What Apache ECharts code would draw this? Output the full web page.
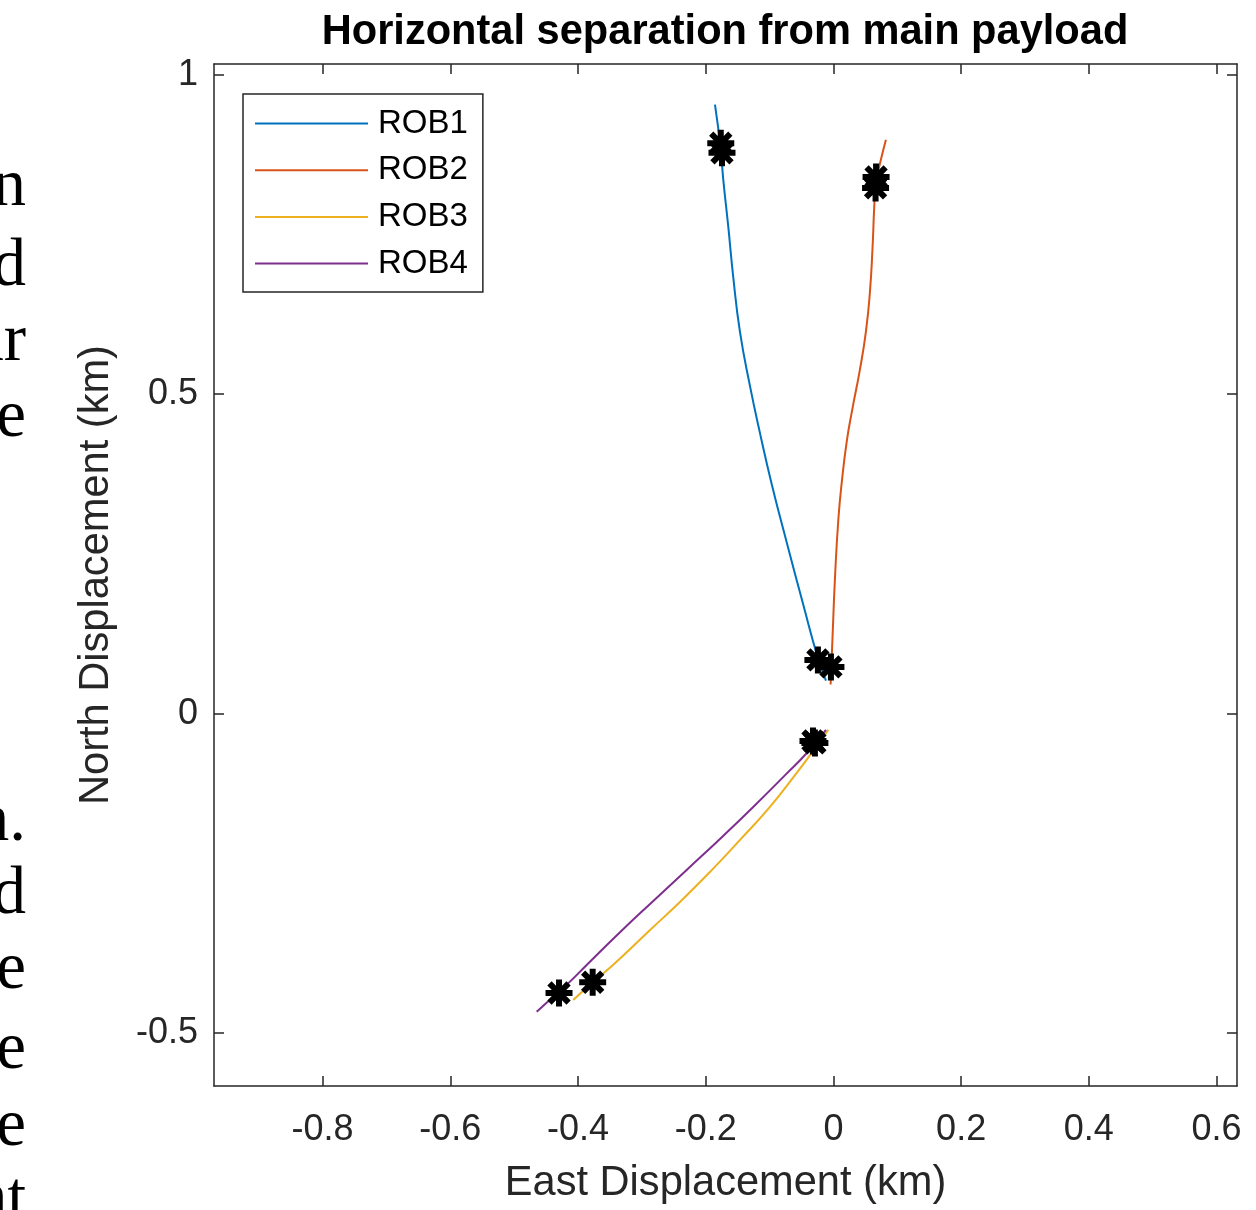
<!DOCTYPE html>
<html><head><meta charset="utf-8">
<script src="https://cdn.jsdelivr.net/npm/echarts@6/dist/echarts.min.js"></script>
<style>html,body{margin:0;padding:0;background:#fff}#c{width:1256px;height:1210px}</style>
</head><body><div id="c"></div>
<script>
const seriesNames = ['ROB1', 'ROB2', 'ROB3', 'ROB4'];
const rob1 = [[-0.1855,0.9534],[-0.1766,0.885],[-0.1725,0.836],[-0.1647,0.7628],[-0.1569,0.6837],[-0.1464,0.598],[-0.1307,0.513],[-0.1151,0.4395],[-0.0968,0.36],[-0.0733,0.2688],[-0.0473,0.1708],[-0.0238,0.0853],[-0.0117,0.0518]];
const rob2 = [[-0.0044,0.0457],[-0.0013,0.122],[0.0025,0.2136],[0.0078,0.305],[0.0135,0.366],[0.021,0.427],[0.0295,0.476],[0.0412,0.537],[0.0509,0.598],[0.0571,0.659],[0.0614,0.732],[0.0639,0.793],[0.0665,0.831],[0.0728,0.8607],[0.0822,0.8984]];
const rob3 = [[-0.0081,-0.0255],[-0.0341,-0.0615],[-0.0587,-0.0944],[-0.0994,-0.1461],[-0.1448,-0.1962],[-0.1902,-0.2447],[-0.2387,-0.2933],[-0.2904,-0.3418],[-0.3452,-0.3935],[-0.3765,-0.4201],[-0.4074,-0.4483]];
const rob4 = [[-0.0117,-0.0255],[-0.042,-0.062],[-0.0733,-0.0939],[-0.1256,-0.1461],[-0.1777,-0.1962],[-0.2298,-0.2447],[-0.2821,-0.2933],[-0.3342,-0.3423],[-0.3864,-0.3935],[-0.4125,-0.4196],[-0.4387,-0.4431],[-0.4647,-0.4666]];
const rob1Marks = [[-0.1764,0.893],[-0.1745,0.878],[-0.0243,0.0841]];
const rob2Marks = [[0.0668,0.84],[0.066,0.823],[-0.0039,0.0731]];
const rob3Marks = [[-0.029,-0.0459],[-0.377,-0.4205]];
const rob4Marks = [[-0.032,-0.0427],[-0.4297,-0.4374]];
const xTicks = [-0.8,-0.6,-0.4,-0.2,0,0.2,0.4,0.6];
const yTicks = [-0.5,0,0.5,1];
const sideWords = ['n','d','ar','e','n.','d','e','e','e','nt'];

const colors = ['#0072BD','#D95319','#EDB120','#7E2F8E'];
const axisColor = '#262626';
const sans = '"Liberation Sans", Arial, Helvetica, sans-serif';
const lines = [rob1, rob2, rob3, rob4];
const marks = [rob1Marks, rob2Marks, rob3Marks, rob4Marks];
const asterisk = 'path://M12,0L12,24M0,12L24,12M3.5,3.5L20.5,20.5M3.5,20.5L20.5,3.5';

function mkAxis(pos, min, max, ticks, showLabel, extra) {
  return Object.assign({
    type: 'value', position: pos, min: min, max: max,
    axisLine: {show: true, onZero: false, lineStyle: {color: axisColor, width: 1.5}},
    axisTick: {show: true, inside: true, length: 10, customValues: ticks, lineStyle: {color: axisColor, width: 1.5}},
    axisLabel: {show: showLabel, customValues: ticks, color: axisColor, fontFamily: sans, fontSize: 36, margin: 26},
    splitLine: {show: false}
  }, extra || {});
}

const sideY = [187.4, 267.4, 342.4, 418.4, 822.4, 895.4, 970.4, 1050.4, 1127.4, 1200.4];
const graphics = sideWords.map((w, i) => ({
  type: 'text', x: 26, y: sideY[i],
  style: {text: w, fill: '#000', font: '67px "Liberation Serif", "Times New Roman", serif', textAlign: 'right', textVerticalAlign: 'middle', verticalAlign: 'middle'}
}));

const series = [];
lines.forEach((d, i) => series.push({
  name: seriesNames[i], type: 'line', data: d, xAxisIndex: 0, yAxisIndex: 0,
  showSymbol: false, symbol: 'none', smooth: 0.5,
  lineStyle: {color: colors[i], width: 2}, itemStyle: {color: colors[i]}, z: 2
}));
marks.forEach((d, i) => series.push({
  name: seriesNames[i] + ' marker', type: 'scatter', data: d, xAxisIndex: 0, yAxisIndex: 0,
  symbol: asterisk, symbolSize: 27,
  itemStyle: {color: '#000', borderColor: '#000', borderWidth: 6, opacity: 1}, z: 3, silent: true
}));

const chart = echarts.init(document.getElementById('c'), null, {renderer: 'canvas'});
chart.setOption({
  animation: false,
  backgroundColor: '#fff',
  title: {text: 'Horizontal separation from main payload', left: 720, textAlign: 'center', top: 7,
    textStyle: {fontFamily: sans, fontWeight: 'bold', fontSize: 41.6, color: '#000'}},
  grid: {left: 214, right: 19, top: 64, bottom: 124, containLabel: false},
  xAxis: [
    mkAxis('bottom', -0.97, 0.632, xTicks, true, {name: 'East Displacement (km)', nameLocation: 'middle', nameGap: 77,
      nameTextStyle: {fontFamily: sans, fontSize: 41.6, color: axisColor}}),
    mkAxis('top', -0.97, 0.632, xTicks, false)
  ],
  yAxis: [
    mkAxis('left', -0.583, 1.017, yTicks, true, {name: 'North Displacement (km)', nameLocation: 'middle', nameGap: 96,
      nameTextStyle: {fontFamily: sans, fontSize: 41.6, color: axisColor}, axisLabel: {show: true, customValues: yTicks, color: axisColor, fontFamily: sans, fontSize: 36, margin: 16}}),
    mkAxis('right', -0.583, 1.017, yTicks, false)
  ],
  legend: {
    data: seriesNames, orient: 'vertical', left: 243, top: 94,
    padding: [13, 15, 12, 12], itemGap: 13.7, itemWidth: 113, itemHeight: 2, icon: 'rect',
    borderColor: axisColor, borderWidth: 1.5, backgroundColor: '#fff',
    textStyle: {fontFamily: sans, fontSize: 33, color: '#000', padding: [0, 0, 0, 5]}
  },
  graphic: graphics,
  series: series
});
</script></body></html>
